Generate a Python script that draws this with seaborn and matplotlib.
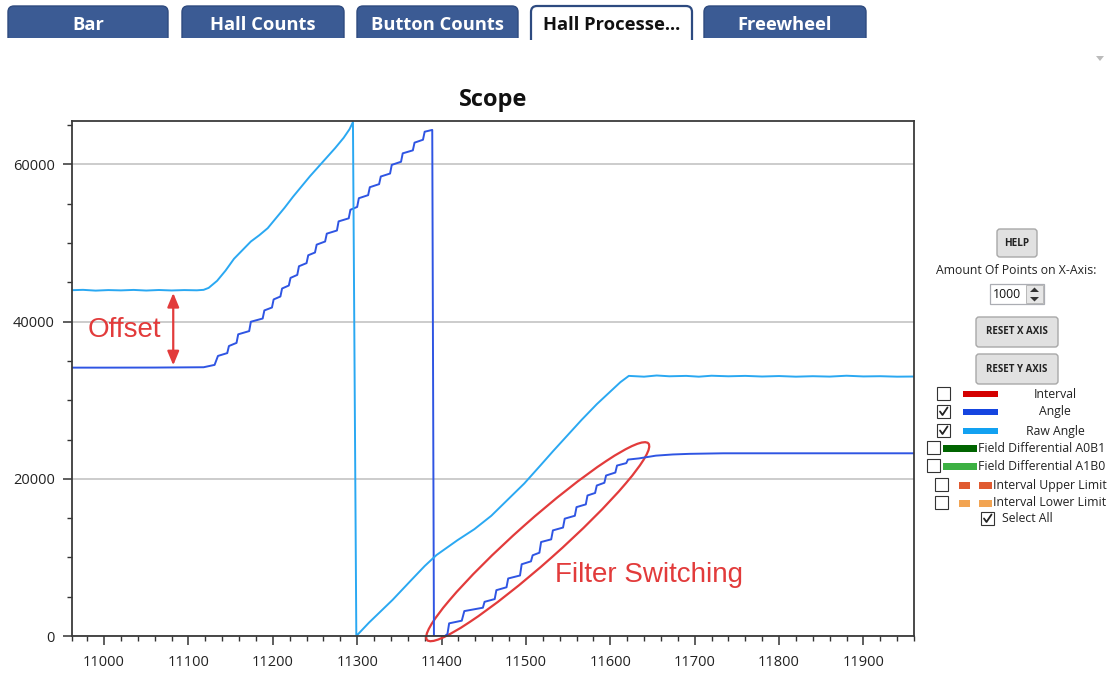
import matplotlib
matplotlib.use("Agg")
import matplotlib.pyplot as plt
import seaborn as sns
import pandas as pd
from matplotlib.patches import FancyBboxPatch, Ellipse, Rectangle, Polygon
from matplotlib.lines import Line2D
import matplotlib.transforms as mtransforms
from matplotlib.ticker import FixedLocator

# ---------------- data ----------------
angle_x = [10960, 11000, 11060, 11118, 11131, 11135, 11146, 11148, 11157, 11159,
           11172, 11174, 11188, 11190, 11199, 11201, 11209, 11211, 11219, 11221,
           11229, 11231, 11240, 11242, 11250, 11252, 11262, 11264, 11276, 11278,
           11290, 11292, 11300, 11302, 11313, 11315, 11326, 11328, 11339, 11341,
           11352, 11354, 11366, 11368, 11378, 11380, 11389, 11391, 11404, 11407,
           11409, 11424, 11427, 11449, 11451, 11463, 11465, 11477, 11479, 11493,
           11495, 11506, 11508, 11516, 11518, 11530, 11532, 11544, 11546, 11558,
           11560, 11571, 11573, 11582, 11584, 11593, 11595, 11606, 11608, 11619,
           11621, 11634, 11654, 11674, 11694, 11734, 11960]
angle_y = [34150, 34150, 34160, 34200, 34500, 35640, 36000, 36900, 37300, 38390,
           38800, 39990, 40400, 41430, 41800, 42830, 43200, 44220, 44600, 45570,
           45950, 47050, 47450, 48450, 48800, 49800, 50200, 51200, 51600, 52760,
           53150, 54240, 54600, 55710, 56100, 57110, 57500, 58470, 58850, 59950,
           60350, 61420, 61800, 62780, 63150, 64170, 64400, 0, 0, 250,
           1610, 1950, 3170, 3600, 4350, 4700, 5830, 6200, 7320, 7700,
           9130, 9500, 10270, 10600, 11960, 12300, 13440, 13800, 14930, 15300,
           16400, 16750, 17880, 18200, 19150, 19500, 20420, 20800, 21690, 22000,
           22450, 22600, 22950, 23100, 23180, 23250, 23250]

raw_x = [10960, 10975, 10990, 11005, 11020, 11035, 11050, 11065, 11080, 11095,
         11110, 11118, 11124, 11134, 11144, 11154, 11164, 11174, 11184, 11194,
         11204, 11214, 11224, 11234, 11244, 11254, 11264, 11274, 11284, 11291,
         11295, 11299, 11314, 11342, 11364, 11380, 11394, 11419, 11439, 11459,
         11478, 11498, 11518, 11532, 11549, 11566, 11584, 11599, 11612, 11622,
         11640, 11655, 11670, 11690, 11705, 11720, 11740, 11760, 11780, 11800,
         11820, 11840, 11860, 11880, 11900, 11920, 11940, 11960]
raw_y = [44000, 44050, 43950, 44020, 43980, 44040, 43960, 44030, 43970, 44020,
         43990, 44050, 44300, 45200, 46500, 48000, 49100, 50200, 51000, 51900,
         53200, 54500, 55900, 57200, 58500, 59700, 60900, 62100, 63400, 64500,
         65400, 0, 1700, 4600, 7100, 8900, 10300, 12200, 13600, 15300,
         17300, 19400, 21800, 23500, 25500, 27500, 29500, 31000, 32300, 33100,
         33000, 33150, 33050, 33100, 33000, 33120, 33050, 33100, 33020, 33080,
         33000, 33060, 33010, 33120, 33030, 33060, 33000, 33020]

x_major = [11000, 11100, 11200, 11300, 11400, 11500, 11600, 11700, 11800, 11900]
x_labels = ["11000", "11100", "11200", "11300", "11400", "11500", "11600", "11700", "11800", "11900"]
y_major = [0, 20000, 40000, 60000]
y_labels = ["0", "20000", "40000", "60000"]

tab_names = ["Bar", "Hall Counts", "Button Counts", "Hall Processe...", "Freewheel"]
legend_labels = ["Interval", "Angle", "Raw Angle", "Field Differential A0B1",
                 "Field Differential A1B0", "Interval Upper Limit", "Interval Lower Limit"]
legend_colors = ["#D40000", "#1545E0", "#12A1F1", "#006400", "#3CB043", "#E05A30", "#F2A452"]
legend_checked = [False, True, True, False, False, False, False]

ANGLE_C = "#2F55E3"
RAW_C = "#2AA8F2"
RED = "#E23B3B"

# ---------------- figure ----------------
sns.set_style("white")
plt.rcParams["font.family"] = ["Open Sans", "DejaVu Sans"]

W, H = 1115, 675
fig = plt.figure(figsize=(W / 100, H / 100), dpi=100)
fig.patch.set_facecolor("white")
ax = fig.add_axes([72 / W, 1 - 636 / H, (914 - 72) / W, (636 - 121) / H])

df = pd.concat([
    pd.DataFrame({"x": angle_x, "y": angle_y, "series": "Angle"}),
    pd.DataFrame({"x": raw_x, "y": raw_y, "series": "Raw Angle"}),
], ignore_index=True)

sns.lineplot(data=df, x="x", y="y", hue="series", hue_order=["Angle", "Raw Angle"],
             palette=[ANGLE_C, RAW_C], estimator=None, sort=False, legend=False,
             linewidth=1.4, ax=ax)

ax.set_xlabel("")
ax.set_ylabel("")
ax.set_xlim(10962, 11960)
ax.set_ylim(0, 65535)
ax.xaxis.set_major_locator(FixedLocator(x_major))
ax.set_xticklabels(x_labels)
ax.xaxis.set_minor_locator(FixedLocator([10962] + list(range(10980, 11961, 20))))
ax.yaxis.set_major_locator(FixedLocator(y_major))
ax.set_yticklabels(y_labels)
ax.yaxis.set_minor_locator(FixedLocator(list(range(0, 65001, 5000))))

ax.tick_params(which="major", direction="out", length=6.5, width=1.1, color="#333333",
               labelsize=10.5, labelcolor="#222222")
ax.tick_params(which="minor", direction="out", length=3.5, width=1.0, color="#333333")
ax.tick_params(axis="x", which="major", pad=7)
ax.tick_params(axis="y", which="major", pad=6)
ax.tick_params(bottom=True, left=True, which="both")

for s in ax.spines.values():
    s.set_visible(True)
    s.set_color("#3A3A3A")
    s.set_linewidth(1.3)

ax.grid(False)
ax.yaxis.grid(True, which="major", color="#C8C8C8", linewidth=1.3)
ax.set_axisbelow(True)

ax.set_title("Scope", fontsize=17, fontweight="bold", pad=11, color="#111111")

# ---------------- annotations ----------------
ax.annotate("", xy=(11082, 43650), xytext=(11082, 34450),
            arrowprops=dict(arrowstyle="<|-|>,head_length=0.6,head_width=0.25",
                            color=RED, lw=1.6, mutation_scale=14, shrinkA=0, shrinkB=0))
ax.text(10980, 38050, "Offset", color=RED, fontsize=20,
        family=["Liberation Sans", "DejaVu Sans"], ha="left", va="baseline")
ax.text(11534, 6870, "Filter Switching", color=RED, fontsize=20,
        family=["Liberation Sans", "DejaVu Sans"], ha="left", va="baseline")

ell_trans = fig.dpi_scale_trans + mtransforms.ScaledTranslation(11514, 12000, ax.transData)
ax.add_patch(Ellipse((0, 0), 2.96, 0.42, angle=41.6, transform=ell_trans, fill=False,
                     ec=RED, lw=1.6, clip_on=False))

# ---------------- UI chrome (pixel helpers) ----------------
T = fig.dpi_scale_trans


def box(x0, y0, x1, y1, fc, ec, lw=1.0, r=3, z=5):
    p = FancyBboxPatch((x0 / 100, (H - y1) / 100), (x1 - x0) / 100, (y1 - y0) / 100,
                       boxstyle=f"round,pad=0,rounding_size={r / 100}",
                       transform=T, fc=fc, ec=ec, lw=lw, zorder=z)
    fig.add_artist(p)


def rect(x0, y0, x1, y1, fc, ec="none", lw=0.0, z=5):
    p = Rectangle((x0 / 100, (H - y1) / 100), (x1 - x0) / 100, (y1 - y0) / 100,
                  transform=T, fc=fc, ec=ec, lw=lw, zorder=z)
    fig.add_artist(p)


def txt(x, y, s, **kw):
    fig.text(x / 100, (H - y) / 100, s, transform=T, **kw)


def tri(pts, fc, z=7):
    fig.add_artist(Polygon([(px / 100, (H - py) / 100) for px, py in pts],
                           closed=True, transform=T, fc=fc, ec="none", zorder=z))


def check(x, y):
    xs = [x + 3, x + 5.5, x + 10.5]
    ys = [y + 6.5, y + 10, y + 2.5]
    fig.add_artist(Line2D([v / 100 for v in xs], [(H - v) / 100 for v in ys],
                          transform=T, color="#222222", lw=1.3, zorder=8))


def checkbox(x, y, checked):
    rect(x, y, x + 13, y + 13, "white", "#333333", 0.8, z=7)
    if checked:
        check(x, y)


# tabs
tab_pos = [(8, 168), (182, 344), (357, 518), (531, 692), (704, 866)]
for i, (name, (x0, x1)) in enumerate(zip(tab_names, tab_pos)):
    if i == 3:
        box(x0, 6, x1, 48, "white", "#2D4A80", lw=1.6, r=6, z=5)
        rect(x0 - 2, 40, x1 + 2, 52, "white", z=6)
        txt((x0 + x1) / 2, 25, name, fontsize=13.2, fontweight="bold", color="#111111",
            ha="center", va="center", zorder=9)
    else:
        box(x0, 6, x1, 48, "#3B5B94", "#2E4A7E", lw=1.0, r=6, z=5)
        rect(x0 - 2, 38, x1 + 2, 52, "white", z=6)
        txt((x0 + x1) / 2, 24.5, name, fontsize=13.2, fontweight="bold", color="white",
            ha="center", va="center", zorder=9)

# small dropdown triangle
tri([(1096, 56), (1104, 56), (1100, 61)], "#BBBBBB")

# right panel
box(997, 229, 1037, 257, "#E1E1E1", "#A8A8A8", 1.0, r=3)
txt(1017, 243, "HELP", fontsize=7.2, fontweight="bold", color="#222222",
    ha="center", va="center", zorder=9)
txt(1016, 270, "Amount Of Points on X-Axis:", fontsize=8.8, color="#222222",
    ha="center", va="center", zorder=9)
rect(990, 284, 1044, 304, "white", "#ABADB3", 0.9, z=7)
rect(1026, 285, 1043, 303, "#E6E6E6", "#B0B0B0", 0.6, z=7)
txt(993, 294.5, "1000", fontsize=8.8, color="#111111", ha="left", va="center", zorder=9)
tri([(1030, 292), (1039, 292), (1034.5, 287.5)], "#333333", z=8)
tri([(1030, 297), (1039, 297), (1034.5, 301.5)], "#333333", z=8)

box(976, 317, 1058, 347, "#E1E1E1", "#A8A8A8", 1.0, r=3)
txt(1017, 332, "RESET X AXIS", fontsize=7.0, fontweight="bold", color="#222222",
    ha="center", va="center", zorder=9)
box(976, 354, 1058, 384, "#E1E1E1", "#A8A8A8", 1.0, r=3)
txt(1017, 369, "RESET Y AXIS", fontsize=7.0, fontweight="bold", color="#222222",
    ha="center", va="center", zorder=9)

row_y = [394, 412, 431, 448, 466, 485, 503]
for i, (lab, col, chk) in enumerate(zip(legend_labels, legend_colors, legend_checked)):
    yc = row_y[i]
    if i < 3:
        checkbox(937, yc - 7, chk)
        rect(963, yc - 3, 998, yc + 3, col, z=7)
        txt(1055, yc, lab, fontsize=8.8, color="#222222", ha="center", va="center", zorder=9)
    elif i < 5:
        checkbox(927, yc - 7, chk)
        rect(943, yc - 3.5, 977, yc + 3.5, col, z=7)
        txt(978, yc, lab, fontsize=8.8, color="#222222", ha="left", va="center", zorder=9)
    else:
        checkbox(935, yc - 7, chk)
        rect(959, yc - 3.5, 970, yc + 3.5, col, z=7)
        rect(979, yc - 3.5, 992, yc + 3.5, col, z=7)
        txt(993, yc, lab, fontsize=8.8, color="#222222", ha="left", va="center", zorder=9)

checkbox(981, 512, True)
txt(1002, 519, "Select All", fontsize=8.8, color="#222222", ha="left", va="center", zorder=9)

fig.savefig("out.png", dpi=100, facecolor="white")
